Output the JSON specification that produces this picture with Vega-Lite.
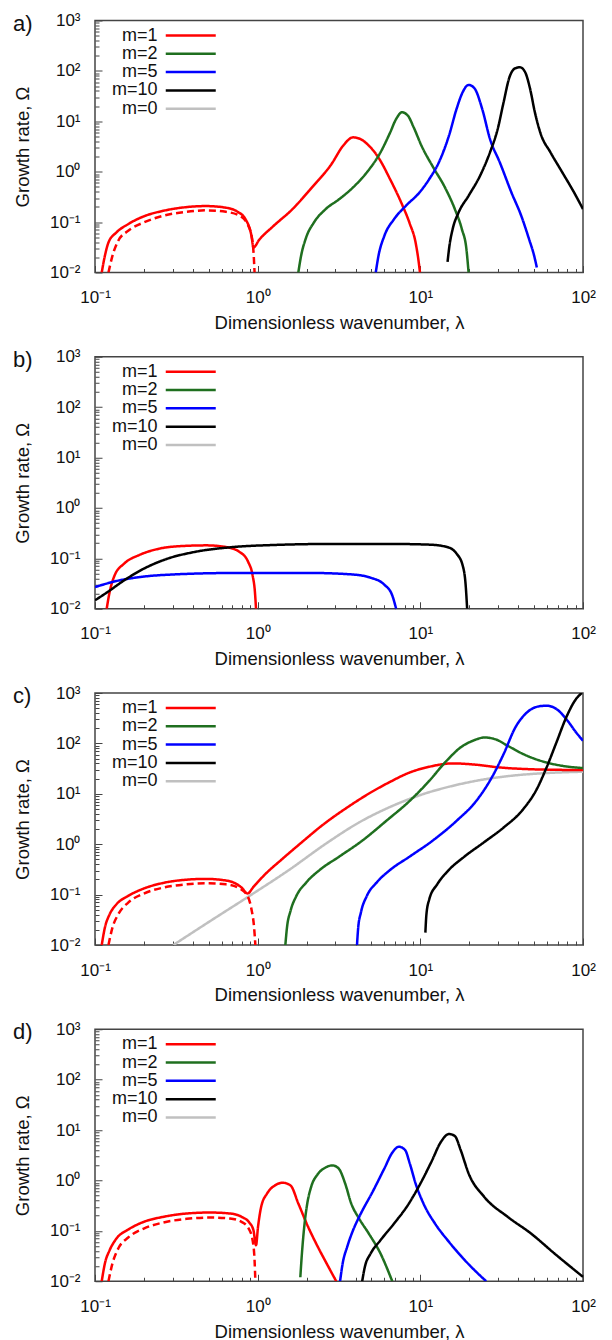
{
  "$schema": "https://vega.github.io/schema/vega-lite/v6.json",
  "background": "white",
  "padding": {"left": 12, "top": 10.5, "right": 5, "bottom": 0},
  "config": {
    "font": "Liberation Sans",
    "view": {"stroke": "#444", "strokeWidth": 1.5},
    "axis": {
      "labelFont": "Liberation Sans", "labelFontSize": 17, "labelColor": "#111",
      "titleFont": "Liberation Sans", "titleFontSize": 18.5, "titleFontWeight": "normal", "titleColor": "#111",
      "domain": false, "grid": false, "tickColor": "#444", "tickWidth": 1,
      "labelOverlap": false, "labelBound": false, "labelFlush": false
    },
    "title": {"font": "Liberation Sans", "fontSize": 22, "fontWeight": "normal", "color": "#111", "anchor": "start", "frame": "group", "dx": -82, "offset": -24},
    "legend": {"padding": 0}
  },
  "resolve": {"scale": {"color": "independent", "strokeDash": "independent"}, "legend": {"color": "independent"}},
  "data": {"values": [
    {"panel":"a","m":"m=1","line":"solid","lambda":0.110,"omega":0.01},
    {"panel":"a","m":"m=1","line":"solid","lambda":0.115,"omega":0.0214},
    {"panel":"a","m":"m=1","line":"solid","lambda":0.121,"omega":0.0394},
    {"panel":"a","m":"m=1","line":"solid","lambda":0.1355,"omega":0.0624},
    {"panel":"a","m":"m=1","line":"solid","lambda":0.160,"omega":0.0912},
    {"panel":"a","m":"m=1","line":"solid","lambda":0.1995,"omega":0.130},
    {"panel":"a","m":"m=1","line":"solid","lambda":0.264,"omega":0.168},
    {"panel":"a","m":"m=1","line":"solid","lambda":0.348,"omega":0.195},
    {"panel":"a","m":"m=1","line":"solid","lambda":0.484,"omega":0.208},
    {"panel":"a","m":"m=1","line":"solid","lambda":0.638,"omega":0.193},
    {"panel":"a","m":"m=1","line":"solid","lambda":0.753,"omega":0.160},
    {"panel":"a","m":"m=1","line":"solid","lambda":0.841,"omega":0.115},
    {"panel":"a","m":"m=1","line":"solid","lambda":0.916,"omega":0.0534},
    {"panel":"a","m":"m=1","line":"solid","lambda":0.942,"omega":0.0314},
    {"panel":"a","m":"m=1","line":"solid","lambda":1.022,"omega":0.0446},
    {"panel":"a","m":"m=1","line":"solid","lambda":1.242,"omega":0.082},
    {"panel":"a","m":"m=1","line":"solid","lambda":1.637,"omega":0.181},
    {"panel":"a","m":"m=1","line":"solid","lambda":2.158,"omega":0.489},
    {"panel":"a","m":"m=1","line":"solid","lambda":2.844,"omega":1.419},
    {"panel":"a","m":"m=1","line":"solid","lambda":3.357,"omega":3.3},
    {"panel":"a","m":"m=1","line":"solid","lambda":3.86,"omega":4.8},
    {"panel":"a","m":"m=1","line":"solid","lambda":4.31,"omega":4.4},
    {"panel":"a","m":"m=1","line":"solid","lambda":4.82,"omega":3.3},
    {"panel":"a","m":"m=1","line":"solid","lambda":5.53,"omega":1.9},
    {"panel":"a","m":"m=1","line":"solid","lambda":6.53,"omega":0.70},
    {"panel":"a","m":"m=1","line":"solid","lambda":7.71,"omega":0.226},
    {"panel":"a","m":"m=1","line":"solid","lambda":8.61,"omega":0.0935},
    {"panel":"a","m":"m=1","line":"solid","lambda":9.35,"omega":0.0394},
    {"panel":"a","m":"m=1","line":"solid","lambda":9.78,"omega":0.0158},
    {"panel":"a","m":"m=1","line":"solid","lambda":9.95,"omega":0.01},
    {"panel":"a","m":"m=1","line":"dashed","lambda":0.121,"omega":0.01},
    {"panel":"a","m":"m=1","line":"dashed","lambda":0.128,"omega":0.0214},
    {"panel":"a","m":"m=1","line":"dashed","lambda":0.139,"omega":0.0426},
    {"panel":"a","m":"m=1","line":"dashed","lambda":0.160,"omega":0.0673},
    {"panel":"a","m":"m=1","line":"dashed","lambda":0.1995,"omega":0.0985},
    {"panel":"a","m":"m=1","line":"dashed","lambda":0.264,"omega":0.134},
    {"panel":"a","m":"m=1","line":"dashed","lambda":0.367,"omega":0.160},
    {"panel":"a","m":"m=1","line":"dashed","lambda":0.484,"omega":0.171},
    {"panel":"a","m":"m=1","line":"dashed","lambda":0.638,"omega":0.160},
    {"panel":"a","m":"m=1","line":"dashed","lambda":0.774,"omega":0.134},
    {"panel":"a","m":"m=1","line":"dashed","lambda":0.866,"omega":0.0912},
    {"panel":"a","m":"m=1","line":"dashed","lambda":0.925,"omega":0.0459},
    {"panel":"a","m":"m=1","line":"dashed","lambda":0.946,"omega":0.0214},
    {"panel":"a","m":"m=1","line":"dashed","lambda":0.957,"omega":0.01},
    {"panel":"a","m":"m=2","line":"solid","lambda":1.778,"omega":0.01},
    {"panel":"a","m":"m=2","line":"solid","lambda":1.849,"omega":0.0214},
    {"panel":"a","m":"m=2","line":"solid","lambda":1.986,"omega":0.0495},
    {"panel":"a","m":"m=2","line":"solid","lambda":2.218,"omega":0.0985},
    {"panel":"a","m":"m=2","line":"solid","lambda":2.618,"omega":0.181},
    {"panel":"a","m":"m=2","line":"solid","lambda":3.177,"omega":0.286},
    {"panel":"a","m":"m=2","line":"solid","lambda":3.86,"omega":0.489},
    {"panel":"a","m":"m=2","line":"solid","lambda":4.69,"omega":0.97},
    {"panel":"a","m":"m=2","line":"solid","lambda":5.69,"omega":2.42},
    {"panel":"a","m":"m=2","line":"solid","lambda":6.53,"omega":6.04},
    {"panel":"a","m":"m=2","line":"solid","lambda":7.10,"omega":11.1},
    {"panel":"a","m":"m=2","line":"solid","lambda":7.71,"omega":15.1},
    {"panel":"a","m":"m=2","line":"solid","lambda":8.38,"omega":12.97},
    {"panel":"a","m":"m=2","line":"solid","lambda":9.10,"omega":7.60},
    {"panel":"a","m":"m=2","line":"solid","lambda":10.16,"omega":3.29},
    {"panel":"a","m":"m=2","line":"solid","lambda":12.0,"omega":1.22},
    {"panel":"a","m":"m=2","line":"solid","lambda":14.16,"omega":0.489},
    {"panel":"a","m":"m=2","line":"solid","lambda":16.3,"omega":0.181},
    {"panel":"a","m":"m=2","line":"solid","lambda":18.0,"omega":0.0726},
    {"panel":"a","m":"m=2","line":"solid","lambda":19.2,"omega":0.0291},
    {"panel":"a","m":"m=2","line":"solid","lambda":19.8,"omega":0.01},
    {"panel":"a","m":"m=5","line":"solid","lambda":5.32,"omega":0.01},
    {"panel":"a","m":"m=5","line":"solid","lambda":5.53,"omega":0.0214},
    {"panel":"a","m":"m=5","line":"solid","lambda":6.01,"omega":0.0534},
    {"panel":"a","m":"m=5","line":"solid","lambda":6.90,"omega":0.115},
    {"panel":"a","m":"m=5","line":"solid","lambda":8.15,"omega":0.211},
    {"panel":"a","m":"m=5","line":"solid","lambda":9.89,"omega":0.388},
    {"panel":"a","m":"m=5","line":"solid","lambda":11.35,"omega":0.715},
    {"panel":"a","m":"m=5","line":"solid","lambda":13.0,"omega":1.53},
    {"panel":"a","m":"m=5","line":"solid","lambda":15.0,"omega":5.19},
    {"panel":"a","m":"m=5","line":"solid","lambda":16.7,"omega":17.6},
    {"panel":"a","m":"m=5","line":"solid","lambda":18.2,"omega":37.7},
    {"panel":"a","m":"m=5","line":"solid","lambda":19.8,"omega":52.7},
    {"panel":"a","m":"m=5","line":"solid","lambda":21.5,"omega":45.3},
    {"panel":"a","m":"m=5","line":"solid","lambda":24.0,"omega":17.6},
    {"panel":"a","m":"m=5","line":"solid","lambda":26.8,"omega":4.46},
    {"panel":"a","m":"m=5","line":"solid","lambda":30.8,"omega":1.53},
    {"panel":"a","m":"m=5","line":"solid","lambda":36.3,"omega":0.388},
    {"panel":"a","m":"m=5","line":"solid","lambda":41.7,"omega":0.134},
    {"panel":"a","m":"m=5","line":"solid","lambda":46.6,"omega":0.0459},
    {"panel":"a","m":"m=5","line":"solid","lambda":50.1,"omega":0.0214},
    {"panel":"a","m":"m=5","line":"solid","lambda":52.0,"omega":0.0126},
    {"panel":"a","m":"m=10","line":"solid","lambda":14.7,"omega":0.0163},
    {"panel":"a","m":"m=10","line":"solid","lambda":15.1,"omega":0.0339},
    {"panel":"a","m":"m=10","line":"solid","lambda":15.8,"omega":0.0726},
    {"panel":"a","m":"m=10","line":"solid","lambda":17.2,"omega":0.156},
    {"panel":"a","m":"m=10","line":"solid","lambda":19.8,"omega":0.333},
    {"panel":"a","m":"m=10","line":"solid","lambda":23.3,"omega":0.834},
    {"panel":"a","m":"m=10","line":"solid","lambda":26.8,"omega":2.42},
    {"panel":"a","m":"m=10","line":"solid","lambda":29.9,"omega":7.04},
    {"panel":"a","m":"m=10","line":"solid","lambda":32.5,"omega":23.8},
    {"panel":"a","m":"m=10","line":"solid","lambda":35.3,"omega":74.8},
    {"panel":"a","m":"m=10","line":"solid","lambda":38.4,"omega":113},
    {"panel":"a","m":"m=10","line":"solid","lambda":41.0,"omega":118},
    {"panel":"a","m":"m=10","line":"solid","lambda":44.1,"omega":94.2},
    {"panel":"a","m":"m=10","line":"solid","lambda":47.3,"omega":43.9},
    {"panel":"a","m":"m=10","line":"solid","lambda":50.6,"omega":15.1},
    {"panel":"a","m":"m=10","line":"solid","lambda":55.0,"omega":5.60},
    {"panel":"a","m":"m=10","line":"solid","lambda":63.1,"omega":2.42},
    {"panel":"a","m":"m=10","line":"solid","lambda":74.6,"omega":0.97},
    {"panel":"a","m":"m=10","line":"solid","lambda":88.1,"omega":0.388},
    {"panel":"a","m":"m=10","line":"solid","lambda":100,"omega":0.181},

    {"panel":"b","m":"m=1","line":"solid","lambda":0.118,"omega":0.01},
    {"panel":"b","m":"m=1","line":"solid","lambda":0.123,"omega":0.0214},
    {"panel":"b","m":"m=1","line":"solid","lambda":0.132,"omega":0.0459},
    {"panel":"b","m":"m=1","line":"solid","lambda":0.151,"omega":0.0784},
    {"panel":"b","m":"m=1","line":"solid","lambda":0.189,"omega":0.118},
    {"panel":"b","m":"m=1","line":"solid","lambda":0.249,"omega":0.156},
    {"panel":"b","m":"m=1","line":"solid","lambda":0.348,"omega":0.176},
    {"panel":"b","m":"m=1","line":"solid","lambda":0.484,"omega":0.181},
    {"panel":"b","m":"m=1","line":"solid","lambda":0.638,"omega":0.168},
    {"panel":"b","m":"m=1","line":"solid","lambda":0.774,"omega":0.134},
    {"panel":"b","m":"m=1","line":"solid","lambda":0.875,"omega":0.0845},
    {"panel":"b","m":"m=1","line":"solid","lambda":0.931,"omega":0.0459},
    {"panel":"b","m":"m=1","line":"solid","lambda":0.962,"omega":0.0214},
    {"panel":"b","m":"m=1","line":"solid","lambda":0.977,"omega":0.01},
    {"panel":"b","m":"m=5","line":"solid","lambda":0.1,"omega":0.0269},
    {"panel":"b","m":"m=5","line":"solid","lambda":0.1355,"omega":0.0355},
    {"panel":"b","m":"m=5","line":"solid","lambda":0.189,"omega":0.0426},
    {"panel":"b","m":"m=5","line":"solid","lambda":0.311,"omega":0.0481},
    {"panel":"b","m":"m=5","line":"solid","lambda":0.713,"omega":0.0512},
    {"panel":"b","m":"m=5","line":"solid","lambda":2.158,"omega":0.0512},
    {"panel":"b","m":"m=5","line":"solid","lambda":3.76,"omega":0.0481},
    {"panel":"b","m":"m=5","line":"solid","lambda":4.95,"omega":0.0413},
    {"panel":"b","m":"m=5","line":"solid","lambda":6.01,"omega":0.030},
    {"panel":"b","m":"m=5","line":"solid","lambda":6.72,"omega":0.0184},
    {"panel":"b","m":"m=5","line":"solid","lambda":7.10,"omega":0.01},
    {"panel":"b","m":"m=10","line":"solid","lambda":0.1,"omega":0.0147},
    {"panel":"b","m":"m=10","line":"solid","lambda":0.121,"omega":0.0221},
    {"panel":"b","m":"m=10","line":"solid","lambda":0.151,"omega":0.0366},
    {"panel":"b","m":"m=10","line":"solid","lambda":0.1995,"omega":0.0624},
    {"panel":"b","m":"m=10","line":"solid","lambda":0.279,"omega":0.0985},
    {"panel":"b","m":"m=10","line":"solid","lambda":0.410,"omega":0.134},
    {"panel":"b","m":"m=10","line":"solid","lambda":0.713,"omega":0.168},
    {"panel":"b","m":"m=10","line":"solid","lambda":1.242,"omega":0.184},
    {"panel":"b","m":"m=10","line":"solid","lambda":2.844,"omega":0.193},
    {"panel":"b","m":"m=10","line":"solid","lambda":6.53,"omega":0.193},
    {"panel":"b","m":"m=10","line":"solid","lambda":11.35,"omega":0.187},
    {"panel":"b","m":"m=10","line":"solid","lambda":14.6,"omega":0.168},
    {"panel":"b","m":"m=10","line":"solid","lambda":16.7,"omega":0.124},
    {"panel":"b","m":"m=10","line":"solid","lambda":18.2,"omega":0.0726},
    {"panel":"b","m":"m=10","line":"solid","lambda":19.0,"omega":0.0291},
    {"panel":"b","m":"m=10","line":"solid","lambda":19.4,"omega":0.01},

    {"panel":"c","m":"m=0","line":"solid","lambda":0.303,"omega":0.01},
    {"panel":"c","m":"m=0","line":"solid","lambda":0.512,"omega":0.030},
    {"panel":"c","m":"m=0","line":"solid","lambda":0.891,"omega":0.0942},
    {"panel":"c","m":"m=0","line":"solid","lambda":1.549,"omega":0.304},
    {"panel":"c","m":"m=0","line":"solid","lambda":2.69,"omega":1.08},
    {"panel":"c","m":"m=0","line":"solid","lambda":4.20,"omega":2.7},
    {"panel":"c","m":"m=0","line":"solid","lambda":6.53,"omega":5.5},
    {"panel":"c","m":"m=0","line":"solid","lambda":10.16,"omega":9.6},
    {"panel":"c","m":"m=0","line":"solid","lambda":15.0,"omega":13.8},
    {"panel":"c","m":"m=0","line":"solid","lambda":23.3,"omega":18.7},
    {"panel":"c","m":"m=0","line":"solid","lambda":36.3,"omega":22.8},
    {"panel":"c","m":"m=0","line":"solid","lambda":59.7,"omega":25.8},
    {"panel":"c","m":"m=0","line":"solid","lambda":100,"omega":27.4},
    {"panel":"c","m":"m=1","line":"solid","lambda":0.110,"omega":0.01},
    {"panel":"c","m":"m=1","line":"solid","lambda":0.115,"omega":0.0221},
    {"panel":"c","m":"m=1","line":"solid","lambda":0.123,"omega":0.0406},
    {"panel":"c","m":"m=1","line":"solid","lambda":0.1355,"omega":0.0643},
    {"panel":"c","m":"m=1","line":"solid","lambda":0.160,"omega":0.0942},
    {"panel":"c","m":"m=1","line":"solid","lambda":0.1995,"omega":0.132},
    {"panel":"c","m":"m=1","line":"solid","lambda":0.264,"omega":0.171},
    {"panel":"c","m":"m=1","line":"solid","lambda":0.348,"omega":0.195},
    {"panel":"c","m":"m=1","line":"solid","lambda":0.484,"omega":0.205},
    {"panel":"c","m":"m=1","line":"solid","lambda":0.604,"omega":0.195},
    {"panel":"c","m":"m=1","line":"solid","lambda":0.713,"omega":0.173},
    {"panel":"c","m":"m=1","line":"solid","lambda":0.796,"omega":0.138},
    {"panel":"c","m":"m=1","line":"solid","lambda":0.866,"omega":0.105},
    {"panel":"c","m":"m=1","line":"solid","lambda":0.942,"omega":0.142},
    {"panel":"c","m":"m=1","line":"solid","lambda":1.111,"omega":0.253},
    {"panel":"c","m":"m=1","line":"solid","lambda":1.387,"omega":0.48},
    {"panel":"c","m":"m=1","line":"solid","lambda":1.828,"omega":1.03},
    {"panel":"c","m":"m=1","line":"solid","lambda":2.547,"omega":2.50},
    {"panel":"c","m":"m=1","line":"solid","lambda":3.55,"omega":5.35},
    {"panel":"c","m":"m=1","line":"solid","lambda":4.95,"omega":10.6},
    {"panel":"c","m":"m=1","line":"solid","lambda":6.53,"omega":17.3},
    {"panel":"c","m":"m=1","line":"solid","lambda":8.61,"omega":26.5},
    {"panel":"c","m":"m=1","line":"solid","lambda":11.35,"omega":34.4},
    {"panel":"c","m":"m=1","line":"solid","lambda":15.8,"omega":40.1},
    {"panel":"c","m":"m=1","line":"solid","lambda":22.1,"omega":37.7},
    {"panel":"c","m":"m=1","line":"solid","lambda":30.8,"omega":33.3},
    {"panel":"c","m":"m=1","line":"solid","lambda":45.3,"omega":30.9},
    {"panel":"c","m":"m=1","line":"solid","lambda":66.8,"omega":30.0},
    {"panel":"c","m":"m=1","line":"solid","lambda":100,"omega":29.5},
    {"panel":"c","m":"m=1","line":"dashed","lambda":0.121,"omega":0.01},
    {"panel":"c","m":"m=1","line":"dashed","lambda":0.128,"omega":0.0221},
    {"panel":"c","m":"m=1","line":"dashed","lambda":0.139,"omega":0.0406},
    {"panel":"c","m":"m=1","line":"dashed","lambda":0.160,"omega":0.0693},
    {"panel":"c","m":"m=1","line":"dashed","lambda":0.1995,"omega":0.105},
    {"panel":"c","m":"m=1","line":"dashed","lambda":0.264,"omega":0.138},
    {"panel":"c","m":"m=1","line":"dashed","lambda":0.367,"omega":0.160},
    {"panel":"c","m":"m=1","line":"dashed","lambda":0.484,"omega":0.168},
    {"panel":"c","m":"m=1","line":"dashed","lambda":0.638,"omega":0.160},
    {"panel":"c","m":"m=1","line":"dashed","lambda":0.774,"omega":0.132},
    {"panel":"c","m":"m=1","line":"dashed","lambda":0.866,"omega":0.0942},
    {"panel":"c","m":"m=1","line":"dashed","lambda":0.916,"omega":0.0512},
    {"panel":"c","m":"m=1","line":"dashed","lambda":0.951,"omega":0.0221},
    {"panel":"c","m":"m=1","line":"dashed","lambda":0.968,"omega":0.01},
    {"panel":"c","m":"m=2","line":"solid","lambda":1.48,"omega":0.01},
    {"panel":"c","m":"m=2","line":"solid","lambda":1.514,"omega":0.0221},
    {"panel":"c","m":"m=2","line":"solid","lambda":1.592,"omega":0.0473},
    {"panel":"c","m":"m=2","line":"solid","lambda":1.730,"omega":0.0942},
    {"panel":"c","m":"m=2","line":"solid","lambda":1.986,"omega":0.173},
    {"panel":"c","m":"m=2","line":"solid","lambda":2.41,"omega":0.31},
    {"panel":"c","m":"m=2","line":"solid","lambda":3.18,"omega":0.57},
    {"panel":"c","m":"m=2","line":"solid","lambda":4.43,"omega":1.2},
    {"panel":"c","m":"m=2","line":"solid","lambda":6.18,"omega":2.91},
    {"panel":"c","m":"m=2","line":"solid","lambda":8.61,"omega":7.26},
    {"panel":"c","m":"m=2","line":"solid","lambda":11.35,"omega":18.1},
    {"panel":"c","m":"m=2","line":"solid","lambda":14.2,"omega":42.0},
    {"panel":"c","m":"m=2","line":"solid","lambda":17.7,"omega":83.4},
    {"panel":"c","m":"m=2","line":"solid","lambda":21.5,"omega":116},
    {"panel":"c","m":"m=2","line":"solid","lambda":24.7,"omega":131},
    {"panel":"c","m":"m=2","line":"solid","lambda":29.1,"omega":120},
    {"panel":"c","m":"m=2","line":"solid","lambda":34.4,"omega":89.9},
    {"panel":"c","m":"m=2","line":"solid","lambda":42.9,"omega":61.4},
    {"panel":"c","m":"m=2","line":"solid","lambda":56.5,"omega":43.9},
    {"panel":"c","m":"m=2","line":"solid","lambda":74.6,"omega":35.9},
    {"panel":"c","m":"m=2","line":"solid","lambda":100,"omega":32.4},
    {"panel":"c","m":"m=5","line":"solid","lambda":4.08,"omega":0.01},
    {"panel":"c","m":"m=5","line":"solid","lambda":4.15,"omega":0.0221},
    {"panel":"c","m":"m=5","line":"solid","lambda":4.31,"omega":0.0438},
    {"panel":"c","m":"m=5","line":"solid","lambda":4.69,"omega":0.0942},
    {"panel":"c","m":"m=5","line":"solid","lambda":5.38,"omega":0.173},
    {"panel":"c","m":"m=5","line":"solid","lambda":6.53,"omega":0.31},
    {"panel":"c","m":"m=5","line":"solid","lambda":8.61,"omega":0.57},
    {"panel":"c","m":"m=5","line":"solid","lambda":12.0,"omega":1.2},
    {"panel":"c","m":"m=5","line":"solid","lambda":16.7,"omega":2.91},
    {"panel":"c","m":"m=5","line":"solid","lambda":22.1,"omega":7.26},
    {"panel":"c","m":"m=5","line":"solid","lambda":27.5,"omega":21.1},
    {"panel":"c","m":"m=5","line":"solid","lambda":32.5,"omega":61.4},
    {"panel":"c","m":"m=5","line":"solid","lambda":38.4,"omega":208},
    {"panel":"c","m":"m=5","line":"solid","lambda":45.3,"omega":413},
    {"panel":"c","m":"m=5","line":"solid","lambda":53.5,"omega":543},
    {"panel":"c","m":"m=5","line":"solid","lambda":59.7,"omega":560},
    {"panel":"c","m":"m=5","line":"solid","lambda":68.7,"omega":481},
    {"panel":"c","m":"m=5","line":"solid","lambda":78.9,"omega":304},
    {"panel":"c","m":"m=5","line":"solid","lambda":90.6,"omega":166},
    {"panel":"c","m":"m=5","line":"solid","lambda":100,"omega":113},
    {"panel":"c","m":"m=10","line":"solid","lambda":10.74,"omega":0.0176},
    {"panel":"c","m":"m=10","line":"solid","lambda":10.9,"omega":0.0406},
    {"panel":"c","m":"m=10","line":"solid","lambda":11.35,"omega":0.0807},
    {"panel":"c","m":"m=10","line":"solid","lambda":12.7,"omega":0.160},
    {"panel":"c","m":"m=10","line":"solid","lambda":15.0,"omega":0.31},
    {"panel":"c","m":"m=10","line":"solid","lambda":18.7,"omega":0.57},
    {"panel":"c","m":"m=10","line":"solid","lambda":24.7,"omega":1.1},
    {"panel":"c","m":"m=10","line":"solid","lambda":32.5,"omega":2.14},
    {"panel":"c","m":"m=10","line":"solid","lambda":42.9,"omega":4.95},
    {"panel":"c","m":"m=10","line":"solid","lambda":52.0,"omega":12.4},
    {"panel":"c","m":"m=10","line":"solid","lambda":59.7,"omega":33.3},
    {"panel":"c","m":"m=10","line":"solid","lambda":68.7,"omega":105},
    {"panel":"c","m":"m=10","line":"solid","lambda":78.9,"omega":329},
    {"panel":"c","m":"m=10","line":"solid","lambda":90.6,"omega":760},
    {"panel":"c","m":"m=10","line":"solid","lambda":98.4,"omega":1000},

    {"panel":"d","m":"m=1","line":"solid","lambda":0.110,"omega":0.01},
    {"panel":"d","m":"m=1","line":"solid","lambda":0.115,"omega":0.0225},
    {"panel":"d","m":"m=1","line":"solid","lambda":0.123,"omega":0.0413},
    {"panel":"d","m":"m=1","line":"solid","lambda":0.1355,"omega":0.0705},
    {"panel":"d","m":"m=1","line":"solid","lambda":0.160,"omega":0.106},
    {"panel":"d","m":"m=1","line":"solid","lambda":0.1995,"omega":0.151},
    {"panel":"d","m":"m=1","line":"solid","lambda":0.264,"omega":0.190},
    {"panel":"d","m":"m=1","line":"solid","lambda":0.367,"omega":0.221},
    {"panel":"d","m":"m=1","line":"solid","lambda":0.512,"omega":0.231},
    {"panel":"d","m":"m=1","line":"solid","lambda":0.675,"omega":0.221},
    {"panel":"d","m":"m=1","line":"solid","lambda":0.796,"omega":0.190},
    {"panel":"d","m":"m=1","line":"solid","lambda":0.891,"omega":0.144},
    {"panel":"d","m":"m=1","line":"solid","lambda":0.942,"omega":0.103},
    {"panel":"d","m":"m=1","line":"solid","lambda":0.977,"omega":0.0519},
    {"panel":"d","m":"m=1","line":"solid","lambda":1.005,"omega":0.120},
    {"panel":"d","m":"m=1","line":"solid","lambda":1.051,"omega":0.300},
    {"panel":"d","m":"m=1","line":"solid","lambda":1.143,"omega":0.552},
    {"panel":"d","m":"m=1","line":"solid","lambda":1.276,"omega":0.796},
    {"panel":"d","m":"m=1","line":"solid","lambda":1.426,"omega":0.90},
    {"panel":"d","m":"m=1","line":"solid","lambda":1.592,"omega":0.796},
    {"panel":"d","m":"m=1","line":"solid","lambda":1.778,"omega":0.349},
    {"panel":"d","m":"m=1","line":"solid","lambda":2.042,"omega":0.120},
    {"panel":"d","m":"m=1","line":"solid","lambda":2.344,"omega":0.0481},
    {"panel":"d","m":"m=1","line":"solid","lambda":2.69,"omega":0.0208},
    {"panel":"d","m":"m=1","line":"solid","lambda":3.04,"omega":0.01},
    {"panel":"d","m":"m=1","line":"dashed","lambda":0.121,"omega":0.01},
    {"panel":"d","m":"m=1","line":"dashed","lambda":0.128,"omega":0.0225},
    {"panel":"d","m":"m=1","line":"dashed","lambda":0.139,"omega":0.0446},
    {"panel":"d","m":"m=1","line":"dashed","lambda":0.160,"omega":0.0738},
    {"panel":"d","m":"m=1","line":"dashed","lambda":0.1995,"omega":0.111},
    {"panel":"d","m":"m=1","line":"dashed","lambda":0.264,"omega":0.147},
    {"panel":"d","m":"m=1","line":"dashed","lambda":0.367,"omega":0.173},
    {"panel":"d","m":"m=1","line":"dashed","lambda":0.512,"omega":0.184},
    {"panel":"d","m":"m=1","line":"dashed","lambda":0.675,"omega":0.176},
    {"panel":"d","m":"m=1","line":"dashed","lambda":0.796,"omega":0.151},
    {"panel":"d","m":"m=1","line":"dashed","lambda":0.881,"omega":0.111},
    {"panel":"d","m":"m=1","line":"dashed","lambda":0.931,"omega":0.0653},
    {"panel":"d","m":"m=1","line":"dashed","lambda":0.957,"omega":0.0261},
    {"panel":"d","m":"m=1","line":"dashed","lambda":0.968,"omega":0.01},
    {"panel":"d","m":"m=2","line":"solid","lambda":1.829,"omega":0.012},
    {"panel":"d","m":"m=2","line":"solid","lambda":1.871,"omega":0.0355},
    {"panel":"d","m":"m=2","line":"solid","lambda":1.933,"omega":0.120},
    {"panel":"d","m":"m=2","line":"solid","lambda":2.018,"omega":0.349},
    {"panel":"d","m":"m=2","line":"solid","lambda":2.133,"omega":0.748},
    {"panel":"d","m":"m=2","line":"solid","lambda":2.344,"omega":1.34},
    {"panel":"d","m":"m=2","line":"solid","lambda":2.618,"omega":1.81},
    {"panel":"d","m":"m=2","line":"solid","lambda":2.876,"omega":1.99},
    {"panel":"d","m":"m=2","line":"solid","lambda":3.145,"omega":1.73},
    {"panel":"d","m":"m=2","line":"solid","lambda":3.45,"omega":0.871},
    {"panel":"d","m":"m=2","line":"solid","lambda":3.76,"omega":0.349},
    {"panel":"d","m":"m=2","line":"solid","lambda":4.20,"omega":0.176},
    {"panel":"d","m":"m=2","line":"solid","lambda":4.82,"omega":0.0885},
    {"panel":"d","m":"m=2","line":"solid","lambda":5.69,"omega":0.0355},
    {"panel":"d","m":"m=2","line":"solid","lambda":6.72,"omega":0.01},
    {"panel":"d","m":"m=5","line":"solid","lambda":3.21,"omega":0.01},
    {"panel":"d","m":"m=5","line":"solid","lambda":3.33,"omega":0.0225},
    {"panel":"d","m":"m=5","line":"solid","lambda":3.55,"omega":0.0481},
    {"panel":"d","m":"m=5","line":"solid","lambda":3.86,"omega":0.103},
    {"panel":"d","m":"m=5","line":"solid","lambda":4.31,"omega":0.221},
    {"panel":"d","m":"m=5","line":"solid","lambda":5.09,"omega":0.596},
    {"panel":"d","m":"m=5","line":"solid","lambda":6.01,"omega":1.73},
    {"panel":"d","m":"m=5","line":"solid","lambda":6.72,"omega":3.55},
    {"panel":"d","m":"m=5","line":"solid","lambda":7.38,"omega":4.67},
    {"panel":"d","m":"m=5","line":"solid","lambda":8.06,"omega":4.01},
    {"panel":"d","m":"m=5","line":"solid","lambda":8.61,"omega":2.18},
    {"panel":"d","m":"m=5","line":"solid","lambda":9.35,"omega":0.871},
    {"panel":"d","m":"m=5","line":"solid","lambda":10.45,"omega":0.349},
    {"panel":"d","m":"m=5","line":"solid","lambda":12.3,"omega":0.140},
    {"panel":"d","m":"m=5","line":"solid","lambda":15.0,"omega":0.0604},
    {"panel":"d","m":"m=5","line":"solid","lambda":19.2,"omega":0.0242},
    {"panel":"d","m":"m=5","line":"solid","lambda":25.4,"omega":0.01},
    {"panel":"d","m":"m=10","line":"solid","lambda":4.39,"omega":0.01},
    {"panel":"d","m":"m=10","line":"solid","lambda":4.56,"omega":0.0193},
    {"panel":"d","m":"m=10","line":"solid","lambda":4.95,"omega":0.0355},
    {"panel":"d","m":"m=10","line":"solid","lambda":5.69,"omega":0.0653},
    {"panel":"d","m":"m=10","line":"solid","lambda":6.90,"omega":0.140},
    {"panel":"d","m":"m=10","line":"solid","lambda":8.38,"omega":0.324},
    {"panel":"d","m":"m=10","line":"solid","lambda":9.89,"omega":0.807},
    {"panel":"d","m":"m=10","line":"solid","lambda":11.7,"omega":2.35},
    {"panel":"d","m":"m=10","line":"solid","lambda":13.4,"omega":5.86},
    {"panel":"d","m":"m=10","line":"solid","lambda":15.0,"omega":8.34},
    {"panel":"d","m":"m=10","line":"solid","lambda":16.3,"omega":7.60},
    {"panel":"d","m":"m=10","line":"solid","lambda":17.7,"omega":4.01},
    {"panel":"d","m":"m=10","line":"solid","lambda":19.8,"omega":1.38},
    {"panel":"d","m":"m=10","line":"solid","lambda":24.7,"omega":0.473},
    {"panel":"d","m":"m=10","line":"solid","lambda":34.4,"omega":0.190},
    {"panel":"d","m":"m=10","line":"solid","lambda":47.9,"omega":0.0885},
    {"panel":"d","m":"m=10","line":"solid","lambda":66.8,"omega":0.0355},
    {"panel":"d","m":"m=10","line":"solid","lambda":100,"omega":0.0122}
  ]},
  "spacing": 14.25,
  "vconcat": [
    {
      "title": {"text": "a)"},
      "transform": [{"filter": "datum.panel == 'a'"}],
      "width": 488, "height": 252,
      "mark": {"type": "line", "strokeWidth": 2.5, "clip": true, "interpolate": "monotone"},
      "encoding": {
        "x": {"field": "lambda", "type": "quantitative", "scale": {"type": "log", "domain": [0.1, 100]},
          "axis": {"title": "Dimensionless wavenumber, λ", "values": [0.1,0.2,0.3,0.4,0.5,0.6,0.7,0.8,0.9,1,2,3,4,5,6,7,8,9,10,20,30,40,50,60,70,80,90,100],
            "labelExpr": "datum.value == 0.1 ? '10⁻¹' : datum.value == 1 ? '10⁰' : datum.value == 10 ? '10¹' : datum.value == 100 ? '10²' : ''",
            "tickSize": {"condition": {"test": "indexof([0.1,1,10,100], datum.value) >= 0", "value": -7}, "value": -4},
            "labelPadding": 24, "titlePadding": 4.75}},
        "y": {"field": "omega", "type": "quantitative", "scale": {"type": "log", "domain": [0.01, 1000]},
          "axis": {"title": "Growth rate, Ω", "values": [0.01,0.02,0.03,0.04,0.05,0.06,0.07,0.08,0.09,0.1,0.2,0.3,0.4,0.5,0.6,0.7,0.8,0.9,1,2,3,4,5,6,7,8,9,10,20,30,40,50,60,70,80,90,100,200,300,400,500,600,700,800,900,1000],
            "labelExpr": "datum.value == 0.01 ? '10⁻²' : datum.value == 0.1 ? '10⁻¹' : datum.value == 1 ? '10⁰' : datum.value == 10 ? '10¹' : datum.value == 100 ? '10²' : datum.value == 1000 ? '10³' : ''",
            "tickSize": {"condition": {"test": "indexof([0.01,0.1,1,10,100,1000], datum.value) >= 0", "value": -7}, "value": -4},
            "labelPadding": 22, "titlePadding": 17}},
        "color": {"field": "m", "type": "nominal",
          "scale": {"domain": ["m=1","m=2","m=5","m=10","m=0"], "range": ["#ff0000","#1f6f1f","#0000ff","#000000","#c0c0c0"]},
          "legend": {"title": null, "orient": "none", "legendX": 86.75, "legendY": 6, "symbolType": "M-5,0H5", "symbolSize": 100, "symbolStrokeWidth": 2.5, "labelAlign": "right", "labelOffset": -42.25, "labelFontSize": 18, "labelColor": "#111", "rowPadding": 0.3, "labelLimit": 0}},
        "strokeDash": {"field": "line", "type": "nominal", "scale": {"domain": ["solid","dashed"], "range": [[1,0],[7,4]]}, "legend": null}
      }
    },
    {
      "title": {"text": "b)"},
      "transform": [{"filter": "datum.panel == 'b'"}],
      "width": 488, "height": 252,
      "mark": {"type": "line", "strokeWidth": 2.5, "clip": true, "interpolate": "monotone"},
      "encoding": {
        "x": {"field": "lambda", "type": "quantitative", "scale": {"type": "log", "domain": [0.1, 100]},
          "axis": {"title": "Dimensionless wavenumber, λ", "values": [0.1,0.2,0.3,0.4,0.5,0.6,0.7,0.8,0.9,1,2,3,4,5,6,7,8,9,10,20,30,40,50,60,70,80,90,100],
            "labelExpr": "datum.value == 0.1 ? '10⁻¹' : datum.value == 1 ? '10⁰' : datum.value == 10 ? '10¹' : datum.value == 100 ? '10²' : ''",
            "tickSize": {"condition": {"test": "indexof([0.1,1,10,100], datum.value) >= 0", "value": -7}, "value": -4},
            "labelPadding": 24, "titlePadding": 4.75}},
        "y": {"field": "omega", "type": "quantitative", "scale": {"type": "log", "domain": [0.01, 1000]},
          "axis": {"title": "Growth rate, Ω", "values": [0.01,0.02,0.03,0.04,0.05,0.06,0.07,0.08,0.09,0.1,0.2,0.3,0.4,0.5,0.6,0.7,0.8,0.9,1,2,3,4,5,6,7,8,9,10,20,30,40,50,60,70,80,90,100,200,300,400,500,600,700,800,900,1000],
            "labelExpr": "datum.value == 0.01 ? '10⁻²' : datum.value == 0.1 ? '10⁻¹' : datum.value == 1 ? '10⁰' : datum.value == 10 ? '10¹' : datum.value == 100 ? '10²' : datum.value == 1000 ? '10³' : ''",
            "tickSize": {"condition": {"test": "indexof([0.01,0.1,1,10,100,1000], datum.value) >= 0", "value": -7}, "value": -4},
            "labelPadding": 22, "titlePadding": 17}},
        "color": {"field": "m", "type": "nominal",
          "scale": {"domain": ["m=1","m=2","m=5","m=10","m=0"], "range": ["#ff0000","#1f6f1f","#0000ff","#000000","#c0c0c0"]},
          "legend": {"title": null, "orient": "none", "legendX": 86.75, "legendY": 6, "symbolType": "M-5,0H5", "symbolSize": 100, "symbolStrokeWidth": 2.5, "labelAlign": "right", "labelOffset": -42.25, "labelFontSize": 18, "labelColor": "#111", "rowPadding": 0.3, "labelLimit": 0}},
        "strokeDash": {"field": "line", "type": "nominal", "scale": {"domain": ["solid","dashed"], "range": [[1,0],[7,4]]}, "legend": null}
      }
    },
    {
      "title": {"text": "c)"},
      "transform": [{"filter": "datum.panel == 'c'"}],
      "width": 488, "height": 252,
      "mark": {"type": "line", "strokeWidth": 2.5, "clip": true, "interpolate": "monotone"},
      "encoding": {
        "x": {"field": "lambda", "type": "quantitative", "scale": {"type": "log", "domain": [0.1, 100]},
          "axis": {"title": "Dimensionless wavenumber, λ", "values": [0.1,0.2,0.3,0.4,0.5,0.6,0.7,0.8,0.9,1,2,3,4,5,6,7,8,9,10,20,30,40,50,60,70,80,90,100],
            "labelExpr": "datum.value == 0.1 ? '10⁻¹' : datum.value == 1 ? '10⁰' : datum.value == 10 ? '10¹' : datum.value == 100 ? '10²' : ''",
            "tickSize": {"condition": {"test": "indexof([0.1,1,10,100], datum.value) >= 0", "value": -7}, "value": -4},
            "labelPadding": 24, "titlePadding": 4.75}},
        "y": {"field": "omega", "type": "quantitative", "scale": {"type": "log", "domain": [0.01, 1000]},
          "axis": {"title": "Growth rate, Ω", "values": [0.01,0.02,0.03,0.04,0.05,0.06,0.07,0.08,0.09,0.1,0.2,0.3,0.4,0.5,0.6,0.7,0.8,0.9,1,2,3,4,5,6,7,8,9,10,20,30,40,50,60,70,80,90,100,200,300,400,500,600,700,800,900,1000],
            "labelExpr": "datum.value == 0.01 ? '10⁻²' : datum.value == 0.1 ? '10⁻¹' : datum.value == 1 ? '10⁰' : datum.value == 10 ? '10¹' : datum.value == 100 ? '10²' : datum.value == 1000 ? '10³' : ''",
            "tickSize": {"condition": {"test": "indexof([0.01,0.1,1,10,100,1000], datum.value) >= 0", "value": -7}, "value": -4},
            "labelPadding": 22, "titlePadding": 17}},
        "color": {"field": "m", "type": "nominal",
          "scale": {"domain": ["m=1","m=2","m=5","m=10","m=0"], "range": ["#ff0000","#1f6f1f","#0000ff","#000000","#c0c0c0"]},
          "legend": {"title": null, "orient": "none", "legendX": 86.75, "legendY": 6, "symbolType": "M-5,0H5", "symbolSize": 100, "symbolStrokeWidth": 2.5, "labelAlign": "right", "labelOffset": -42.25, "labelFontSize": 18, "labelColor": "#111", "rowPadding": 0.3, "labelLimit": 0}},
        "strokeDash": {"field": "line", "type": "nominal", "scale": {"domain": ["solid","dashed"], "range": [[1,0],[7,4]]}, "legend": null}
      }
    },
    {
      "title": {"text": "d)"},
      "transform": [{"filter": "datum.panel == 'd'"}],
      "width": 488, "height": 252,
      "mark": {"type": "line", "strokeWidth": 2.5, "clip": true, "interpolate": "monotone"},
      "encoding": {
        "x": {"field": "lambda", "type": "quantitative", "scale": {"type": "log", "domain": [0.1, 100]},
          "axis": {"title": "Dimensionless wavenumber, λ", "values": [0.1,0.2,0.3,0.4,0.5,0.6,0.7,0.8,0.9,1,2,3,4,5,6,7,8,9,10,20,30,40,50,60,70,80,90,100],
            "labelExpr": "datum.value == 0.1 ? '10⁻¹' : datum.value == 1 ? '10⁰' : datum.value == 10 ? '10¹' : datum.value == 100 ? '10²' : ''",
            "tickSize": {"condition": {"test": "indexof([0.1,1,10,100], datum.value) >= 0", "value": -7}, "value": -4},
            "labelPadding": 24, "titlePadding": 4.75}},
        "y": {"field": "omega", "type": "quantitative", "scale": {"type": "log", "domain": [0.01, 1000]},
          "axis": {"title": "Growth rate, Ω", "values": [0.01,0.02,0.03,0.04,0.05,0.06,0.07,0.08,0.09,0.1,0.2,0.3,0.4,0.5,0.6,0.7,0.8,0.9,1,2,3,4,5,6,7,8,9,10,20,30,40,50,60,70,80,90,100,200,300,400,500,600,700,800,900,1000],
            "labelExpr": "datum.value == 0.01 ? '10⁻²' : datum.value == 0.1 ? '10⁻¹' : datum.value == 1 ? '10⁰' : datum.value == 10 ? '10¹' : datum.value == 100 ? '10²' : datum.value == 1000 ? '10³' : ''",
            "tickSize": {"condition": {"test": "indexof([0.01,0.1,1,10,100,1000], datum.value) >= 0", "value": -7}, "value": -4},
            "labelPadding": 22, "titlePadding": 17}},
        "color": {"field": "m", "type": "nominal",
          "scale": {"domain": ["m=1","m=2","m=5","m=10","m=0"], "range": ["#ff0000","#1f6f1f","#0000ff","#000000","#c0c0c0"]},
          "legend": {"title": null, "orient": "none", "legendX": 86.75, "legendY": 6, "symbolType": "M-5,0H5", "symbolSize": 100, "symbolStrokeWidth": 2.5, "labelAlign": "right", "labelOffset": -42.25, "labelFontSize": 18, "labelColor": "#111", "rowPadding": 0.3, "labelLimit": 0}},
        "strokeDash": {"field": "line", "type": "nominal", "scale": {"domain": ["solid","dashed"], "range": [[1,0],[7,4]]}, "legend": null}
      }
    }
  ]
}
